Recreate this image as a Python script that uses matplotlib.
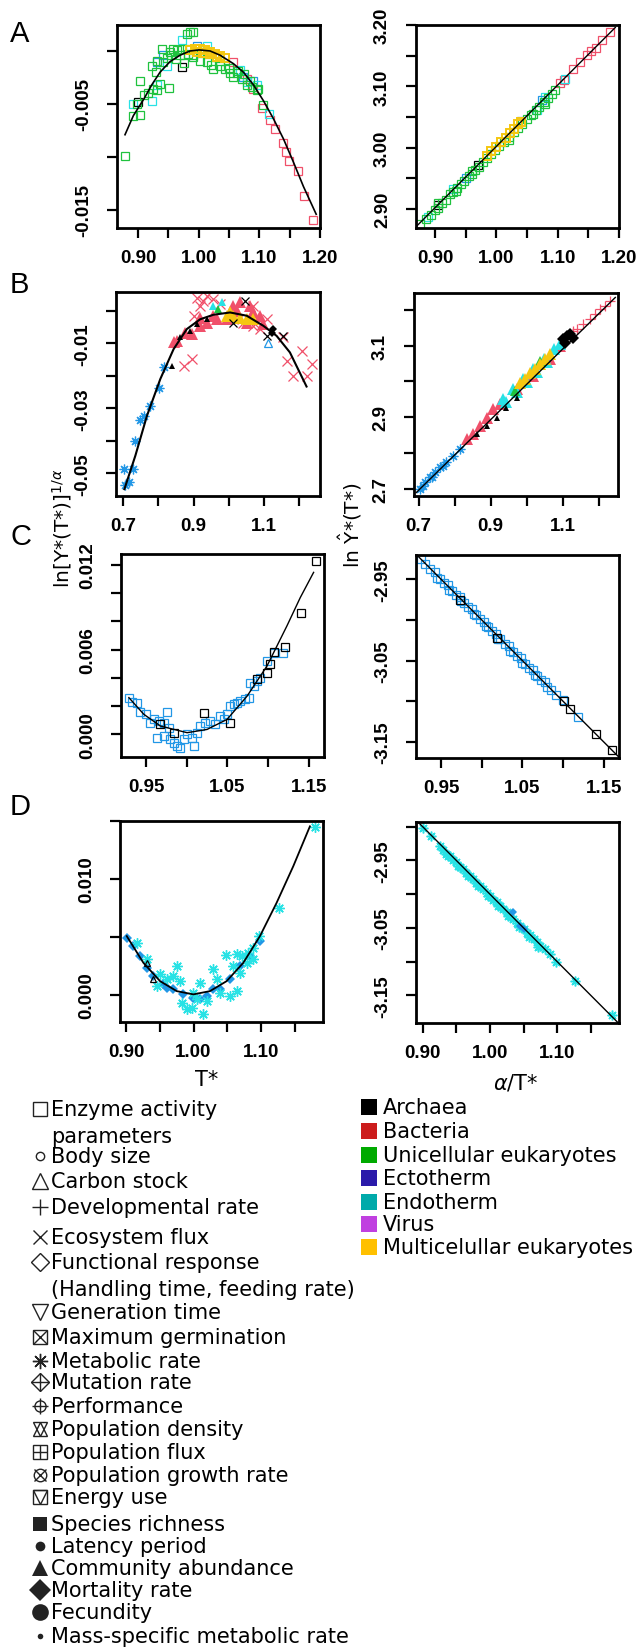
import matplotlib
matplotlib.use("Agg")
import matplotlib.pyplot as plt
from matplotlib.ticker import FixedLocator, FixedFormatter

W, H = 637, 1649

RED = "#F0506A"
GREEN = "#1FC23E"
BLUE = "#2297E6"
CYAN = "#28E2E5"
YEL = "#F5C710"
BLK = "black"
AST = (8, 2, 0)  # R pch 8 style asterisk

# ---------------------------------------------------------------- panel A
a_green_x = [0.8785, 0.8912, 0.9033, 0.8978, 0.9033, 0.9099, 0.9171, 0.9253, 0.9308, 0.9363,
             0.9297, 0.9517, 0.9418, 0.9473, 0.9391, 0.9583, 0.9528, 0.9638, 0.9721, 0.9803,
             0.9858, 0.9913, 0.9814, 0.9831, 0.9913, 1.0023, 1.0133, 1.0243, 1.0353, 1.0436,
             1.0518, 1.0573, 1.0628, 1.0711, 1.0793, 1.0876, 1.0958, 1.0986, 1.1068, 1.0133,
             1.0298, 1.0023, 0.9693, 0.9308, 0.9226,
             0.955, 0.962, 0.975, 0.990, 1.020, 1.035, 1.050, 1.065, 1.075, 1.085]
a_green_y = [-0.0099, -0.0061, -0.0060, -0.0050, -0.0028, -0.0042, -0.0040, -0.0036, -0.0037, -0.0031,
             -0.0020, -0.0035, -0.0010, -0.0007, 0.0002, 0.0002, -0.0001, 0.0001, 0.0002, 0.0002,
             0.0018, 0.0018, 0.0016, -0.0003, -0.0004, -0.0009, -0.0010, -0.0017, -0.0014, -0.0017,
             -0.0021, -0.0025, -0.0021, -0.0026, -0.0032, -0.0034, -0.0037, -0.0036, -0.0051, -0.0001,
             -0.0006, -0.0001, -0.0004, -0.0009, -0.0014,
             -0.0004, -0.0008, -0.0011, -0.0006, -0.0013, -0.0009, -0.0016, -0.0019, -0.0022, -0.0028]
a_cyan_x = [0.8923, 0.9226, 0.9308, 0.9721, 1.0133, 1.0793, 1.1151, 1.0958, 0.9473, 1.0683]
a_cyan_y = [-0.0050, -0.0047, -0.0032, 0.0010, 0.0005, -0.0029, -0.0059, -0.0032, -0.0014, -0.0018]
a_blue_x = [0.9308, 0.9418, 0.9968, 1.0903, 1.0738]
a_blue_y = [-0.0010, -0.0004, 0.0005, -0.0028, -0.0025]
a_blk_x = [0.9721, 0.9006]
a_blk_y = [-0.0015, -0.0048]
a_red_x = [1.1041, 1.1178, 1.1261, 1.1387, 1.1442, 1.1497, 1.1635, 1.1739, 1.1882, 1.0573, 1.0793, 1.0903]
a_red_y = [-0.0054, -0.0065, -0.0074, -0.0087, -0.0095, -0.0104, -0.0113, -0.0137, -0.0159, -0.0010, -0.0026, -0.0036]
a_yel_x = [0.9858, 0.9941, 1.0023, 1.0106, 1.0188, 1.0271, 1.0353, 1.0436, 0.9968, 1.0078, 1.0188, 1.0298]
a_yel_y = [0.0001, 0.0002, 0.0002, 0.0001, -0.0001, -0.0003, -0.0005, -0.0007, -0.0001, -0.0002, -0.0003, -0.0006]
a_fit_x = [0.8785, 0.8923, 0.9099, 0.9226, 0.9363, 0.9528, 0.9693, 0.9858, 1.0007, 1.0188,
           1.0353, 1.0573, 1.0738, 1.0903, 1.1068, 1.1233, 1.1398, 1.1563, 1.1728, 1.1937]
a_fit_y = [-0.0079, -0.0061, -0.0045, -0.0032, -0.0020, -0.0010, -0.0004, 0.0000, 0.0001, 0.0000,
           -0.0004, -0.0012, -0.0020, -0.0032, -0.0047, -0.0064, -0.0083, -0.0105, -0.0128, -0.0154]

ar_green_x = [0.875, 0.885, 0.893, 0.900, 0.905, 0.912, 0.918, 0.925, 0.930, 0.936,
              0.942, 0.948, 0.955, 0.960, 0.966, 0.972, 0.978, 0.985, 0.992, 0.998,
              1.005, 1.012, 1.020, 1.028, 1.035, 1.042, 1.050, 1.057, 1.064, 1.070,
              1.077, 1.084, 1.090, 1.095, 0.905, 0.935, 0.960, 1.020, 1.060, 1.080]
ar_green_y = [2.876, 2.884, 2.890, 2.899, 2.902, 2.910, 2.915, 2.924, 2.927, 2.934,
              2.940, 2.945, 2.953, 2.957, 2.964, 2.969, 2.976, 2.983, 2.989, 2.996,
              3.002, 3.009, 3.017, 3.025, 3.032, 3.039, 3.047, 3.054, 3.061, 3.067,
              3.074, 3.081, 3.088, 3.094, 2.910, 2.930, 2.962, 3.012, 3.055, 3.072]
ar_cyan_x = [0.888, 0.930, 1.066, 1.112, 1.080]
ar_cyan_y = [2.887, 2.932, 3.062, 3.112, 3.083]
ar_blue_x = [0.950, 1.040, 1.075]
ar_blue_y = [2.951, 3.043, 3.078]
ar_yel_x = [0.985, 0.992, 1.000, 1.008, 1.015, 1.022, 1.028, 1.035, 1.040]
ar_yel_y = [2.987, 2.995, 3.001, 3.010, 3.016, 3.024, 3.030, 3.038, 3.042]
ar_red_x = [1.104, 1.110, 1.125, 1.137, 1.148, 1.155, 1.162, 1.172, 1.186]
ar_red_y = [3.105, 3.110, 3.128, 3.140, 3.151, 3.158, 3.162, 3.175, 3.189]
ar_blk_x = [0.970, 0.905]
ar_blk_y = [2.972, 2.906]
ar_line_x = [0.871, 1.194]
ar_line_y = [2.873, 3.196]

# ---------------------------------------------------------------- panel B
b_ast_x = [0.7066, 0.7160, 0.7019, 0.7283, 0.7349, 0.7491, 0.7604, 0.7755, 0.8009, 0.8151]
b_ast_y = [-0.0536, -0.0528, -0.0487, -0.0487, -0.0402, -0.0335, -0.0323, -0.0294, -0.0238, -0.0174]
b_redx_x = [0.9094, 0.9283, 0.9566, 0.9189, 0.9755, 0.9000, 0.8717, 0.8953, 1.2066, 1.2349,
            1.1830, 1.2208, 1.1642, 1.1547, 1.0698, 1.0887, 1.0132, 1.0415, 0.9377, 1.0698, 1.1075]
b_redx_y = [0.0041, 0.0031, 0.0036, 0.0015, 0.0021, -0.0015, -0.0169, -0.0149, -0.0123, -0.0164,
            -0.0200, -0.0200, -0.0154, -0.0082, -0.0046, -0.0056, -0.0026, -0.0036, 0.0046, 0.0015, -0.0026]
b_redtri_x = [0.8528, 0.8764, 0.9189, 0.9377, 0.9660, 1.0132, 1.0321, 1.0698, 1.0887, 1.0509,
              0.9943, 0.8434, 0.8953, 0.9566, 1.0226, 1.0604, 1.0981, 0.9189]
b_redtri_y = [-0.0092, -0.0067, -0.0046, -0.0036, -0.0026, 0.0015, 0.0026, -0.0005, -0.0015, -0.0036,
              -0.0026, -0.0097, -0.0072, -0.0015, 0.0000, 0.0015, -0.0041, -0.0021]
b_blktri_x = [0.8387, 0.8623, 0.8906, 0.9094, 0.9377]
b_blktri_y = [-0.0169, -0.0082, -0.0062, -0.0041, -0.0026]
b_blkx_x = [1.0462, 1.0132, 1.1075, 1.1547]
b_blkx_y = [0.0031, -0.0036, -0.0077, -0.0077]
b_blkd_x = [1.1264, 1.1217]
b_blkd_y = [-0.0056, -0.0067]
b_yel_x = [1.0132, 1.0321, 1.0509, 0.9943, 1.0698, 1.0038]
b_yel_y = [-0.0015, -0.0021, -0.0026, -0.0015, -0.0026, -0.0005]
b_cyan_x = [0.9566, 0.9802]
b_cyan_y = [0.0015, 0.0026]
b_green_x = [0.9708]
b_green_y = [0.0005]
b_bluetri_x = [1.1123]
b_bluetri_y = [-0.0099]
b_fit_x = [0.7038, 0.7349, 0.7679, 0.8057, 0.8434, 0.8811, 0.9189, 0.9566, 1.0038, 1.0509,
           1.0981, 1.1358, 1.1736, 1.2208]
b_fit_y = [-0.0549, -0.0446, -0.0323, -0.0210, -0.0118, -0.0056, -0.0026, -0.0012, -0.0005, -0.0015,
           -0.0046, -0.0077, -0.0128, -0.0233]

br_ast_x = [0.703, 0.712, 0.717, 0.731, 0.738, 0.745, 0.759, 0.768, 0.777, 0.796, 0.814]
br_ast_y = [2.698, 2.707, 2.717, 2.731, 2.733, 2.745, 2.759, 2.764, 2.773, 2.792, 2.810]
br_redtri_x = [0.833, 0.851, 0.870, 0.889, 0.907, 0.926, 0.935, 0.972, 1.019, 1.065, 1.093]
br_redtri_y = [2.838, 2.852, 2.876, 2.899, 2.922, 2.936, 2.945, 2.979, 3.016, 3.063, 3.100]
br_blktri_x = [0.861, 0.889, 0.917, 0.944, 0.972]
br_blktri_y = [2.852, 2.876, 2.899, 2.927, 2.955]
br_cyan_x = [0.935, 0.944, 0.963, 0.972, 0.991, 1.000, 1.019, 1.028, 1.047, 1.056, 1.075, 1.093]
br_cyan_y = [2.950, 2.943, 2.979, 2.970, 3.007, 2.998, 3.035, 3.026, 3.063, 3.054, 3.091, 3.105]
br_yel_x = [0.982, 0.995, 1.009, 1.023, 1.037, 1.051, 1.065]
br_yel_y = [2.997, 3.008, 3.025, 3.035, 3.049, 3.062, 3.077]
br_green_x = [0.968, 1.037]
br_green_y = [2.974, 3.058]
br_blkd_x = [1.102, 1.112, 1.121, 1.130, 1.107]
br_blkd_y = [3.119, 3.128, 3.133, 3.123, 3.109]
br_redx_x = [1.130, 1.140, 1.158, 1.177, 1.191, 1.205, 1.219, 1.233]
br_redx_y = [3.142, 3.147, 3.161, 3.175, 3.189, 3.203, 3.212, 3.226]
br_line_x = [0.6935, 1.2465]
br_line_y = [2.6888, 3.2355]

# ---------------------------------------------------------------- panel C
c_blue_x = [0.9287, 0.9328, 0.9389, 0.9430, 0.9492, 0.9553, 0.9594, 0.9656, 0.9717, 0.9758,
            0.9779, 0.9635, 0.9717, 0.9799, 0.9840, 0.9881, 0.9922, 0.9963, 1.0004, 1.0066,
            1.0086, 1.0127, 1.0168, 1.0230, 1.0291, 1.0352, 1.0414, 1.0455, 1.0496, 1.0537,
            1.0578, 1.0619, 1.0660, 1.0721, 1.0762, 1.0783, 1.0824, 1.0865, 1.0906, 1.0988,
            1.1070, 1.1184]
c_blue_y = [0.00260, 0.00232, 0.00224, 0.00158, 0.00142, 0.00083, 0.00111, 0.00094, 0.00083, 0.00158,
            0.00047, -0.00028, -0.00012, -0.00035, -0.00059, -0.00083, -0.00099, -0.00035, 0.00000, -0.00024,
            -0.00083, 0.00012, 0.00059, 0.00083, 0.00094, 0.00071, 0.00130, 0.00106, 0.00142, 0.00201,
            0.00213, 0.00224, 0.00236, 0.00248, 0.00260, 0.00366, 0.00343, 0.00378, 0.00402, 0.00520,
            0.00574, 0.00579]
c_blk_x = [1.1594, 1.1410, 1.1213, 1.1070, 1.0988, 1.1021, 1.0865, 1.0537, 1.0209, 0.9676, 0.9840]
c_blk_y = [0.01224, 0.00862, 0.00621, 0.00583, 0.00432, 0.00496, 0.00390, 0.00083, 0.00149, 0.00071, 0.00007]
c_fit_x = [0.9287, 0.9471, 0.9676, 1.0004, 1.0250, 1.0496, 1.0742, 1.0988, 1.1234, 1.1398, 1.1562]
c_fit_y = [0.00260, 0.00142, 0.00059, 0.00012, 0.00035, 0.00106, 0.00270, 0.00484, 0.00768, 0.00968, 0.01146]

cr_blue_x = [0.925, 0.930, 0.936, 0.942, 0.948, 0.953, 0.958, 0.963, 0.968, 0.973,
             0.978, 0.983, 0.988, 0.993, 0.998, 1.003, 1.008, 1.013, 1.018, 1.023,
             1.028, 1.033, 1.038, 1.043, 1.048, 1.053, 1.058, 1.063, 1.068, 1.073,
             1.078, 1.085, 1.092, 1.100, 1.119,
             0.945, 0.960, 0.975, 0.990, 1.005, 1.020, 1.035, 1.050, 1.065, 1.080]
cr_blue_y = [-2.925, -2.931, -2.937, -2.941, -2.949, -2.954, -2.957, -2.964, -2.969, -2.972,
             -2.979, -2.984, -2.987, -2.994, -2.999, -3.002, -3.009, -3.014, -3.017, -3.024,
             -3.029, -3.032, -3.039, -3.044, -3.047, -3.054, -3.059, -3.062, -3.069, -3.074,
             -3.077, -3.086, -3.093, -3.099, -3.120,
             -2.948, -2.963, -2.977, -2.993, -3.008, -3.023, -3.038, -3.053, -3.068, -3.083]
cr_blk_x = [1.1007, 1.1089, 1.1410, 1.1603, 1.0186, 0.9734]
cr_blk_y = [-3.0999, -3.1102, -3.1410, -3.1603, -3.0226, -2.9754]
cr_line_x = [0.921, 1.169]
cr_line_y = [-2.921, -3.169]

# ---------------------------------------------------------------- panel D
d_ast_x = [1.1800, 1.1272, 1.0975, 1.0886, 1.0812, 1.0788, 1.0640, 1.0481, 1.0590, 1.0689,
           1.0640, 1.0541, 1.0294, 1.0096, 0.9751, 0.9899, 0.9973, 1.0136, 0.9800, 0.9701,
           0.9504, 0.9454, 1.0195, 1.0393, 0.9825, 0.9602, 1.0047, 1.0343, 1.0886, 1.0714,
           0.9306, 0.9158, 0.9998]
d_ast_y = [0.01449, 0.00753, 0.00508, 0.00407, 0.00364, 0.00278, 0.00350, 0.00344, 0.00250, 0.00192,
           0.00034, -0.00009, 0.00221, 0.00106, 0.00250, -0.00123, -0.00109, -0.00166, 0.00120, 0.00164,
           0.00178, 0.00077, -0.00052, 0.00020, -0.00066, 0.00135, -0.00037, 0.00135, 0.00307, 0.00336,
           0.00307, 0.00450, 0.00020]
d_blue_x = [0.9010, 0.9109, 0.9207, 0.9306, 0.9405, 0.9553, 0.9701, 0.9849, 0.9998, 1.0195,
            1.0393, 1.0541, 1.0689, 1.0837, 1.0985, 1.0096, 1.0294, 0.9602]
d_blue_y = [0.00493, 0.00422, 0.00336, 0.00235, 0.00164, 0.00092, 0.00049, 0.00006, -0.00023, -0.00009,
            0.00049, 0.00135, 0.00250, 0.00336, 0.00465, -0.00037, 0.00049, 0.00063]
d_blk_x = [0.9306, 0.9405]
d_blk_y = [0.00278, 0.00135]
d_fit_x = [0.9010, 0.9257, 0.9504, 0.9751, 0.9998, 1.0244, 1.0491, 1.0738, 1.0985, 1.1232, 1.1479, 1.1726]
d_fit_y = [0.00508, 0.00278, 0.00120, 0.00034, 0.00006, 0.00034, 0.00120, 0.00278, 0.00508, 0.00795, 0.01110, 0.01454]

dr_ast_x = [0.901, 0.913, 0.925,
            0.930, 0.935, 0.940, 0.945, 0.950, 0.955, 0.960, 0.965, 0.970, 0.975,
            0.980, 0.985, 0.990, 0.995, 1.000, 1.005, 1.010, 1.015, 1.020, 1.025,
            1.030, 1.035, 1.040, 1.045, 1.050, 1.055, 1.060, 1.065, 1.070, 1.075,
            1.082, 1.089, 1.099, 1.126, 1.182]
dr_ast_y = [-2.902, -2.914, -2.929,
            -2.934, -2.940, -2.943, -2.949, -2.953, -2.959, -2.963, -2.968, -2.973, -2.978,
            -2.983, -2.988, -2.992, -2.998, -3.002, -3.008, -3.012, -3.018, -3.022, -3.027,
            -3.032, -3.037, -3.042, -3.047, -3.052, -3.057, -3.061, -3.067, -3.071, -3.077,
            -3.082, -3.089, -3.100, -3.128, -3.179]
dr_ast2_x = [0.938, 0.952, 0.967, 0.982, 0.997, 1.012, 1.027, 1.043, 1.058, 1.072]
dr_ast2_y = [-2.944, -2.958, -2.973, -2.988, -3.003, -3.018, -3.033, -3.049, -3.064, -3.078]
dr_blue_x = [1.035, 1.045, 1.050]
dr_blue_y = [-3.027, -3.047, -3.052]
dr_line_x = [0.894, 1.192]
dr_line_y = [-2.894, -3.192]

# ---------------------------------------------------------------- ticks
a_xt = [0.90, 0.95, 1.00, 1.05, 1.10, 1.15, 1.20]
a_xl = ["0.90", "", "1.00", "", "1.10", "", "1.20"]
a_yt = [0.0, -0.005, -0.010, -0.015]
a_yl = ["", "-0.005", "", "-0.015"]
ar_yt = [2.90, 2.95, 3.00, 3.05, 3.10, 3.15, 3.20]
ar_yl = ["2.90", "", "3.00", "", "3.10", "", "3.20"]
b_xt = [0.7, 0.8, 0.9, 1.0, 1.1, 1.2]
b_xl = ["0.7", "", "0.9", "", "1.1", ""]
b_yt = [0.0, -0.01, -0.02, -0.03, -0.04, -0.05]
b_yl = ["", "-0.01", "", "-0.03", "", "-0.05"]
br_yt = [2.7, 2.8, 2.9, 3.0, 3.1, 3.2]
br_yl = ["2.7", "", "2.9", "", "3.1", ""]
c_xt = [0.95, 1.00, 1.05, 1.10, 1.15]
c_xl = ["0.95", "", "1.05", "", "1.15"]
c_yt = [0.0, 0.002, 0.004, 0.006, 0.008, 0.010, 0.012]
c_yl = ["0.000", "", "", "0.006", "", "", "0.012"]
cr_yt = [-2.95, -3.00, -3.05, -3.10, -3.15]
cr_yl = ["-2.95", "", "-3.05", "", "-3.15"]
d_xt = [0.90, 0.95, 1.00, 1.05, 1.10, 1.15]
d_xl = ["0.90", "", "1.00", "", "1.10", ""]
d_yt = [0.0, 0.005, 0.010, 0.015]
d_yl = ["0.000", "", "0.010", ""]
dr_yt = [-2.90, -2.95, -3.00, -3.05, -3.10, -3.15]
dr_yl = ["", "-2.95", "", "-3.05", "", "-3.15"]

# ---------------------------------------------------------------- legends
trait_labels = ["Enzyme activity\nparameters", "Body size", "Carbon stock", "Developmental rate",
                "Ecosystem flux", "Functional response\n(Handling time, feeding rate)",
                "Generation time", "Maximum germination", "Metabolic rate", "Mutation rate",
                "Performance", "Population density", "Population flux", "Population growth rate",
                "Energy use", "Species richness", "Latency period", "Community abundance",
                "Mortality rate", "Fecundity", "Mass-specific metabolic rate"]
group_labels = ["Archaea", "Bacteria", "Unicellular eukaryotes", "Ectotherm", "Endotherm",
                "Virus", "Multicelullar eukaryotes"]
group_colors = ["#000000", "#CC1C1C", "#00AA00", "#2A1AAA", "#00AAAA", "#C040E0", "#FFC000"]

# ================================================================ drawing
fig = plt.figure(figsize=(W / 100, H / 100), dpi=100)


def panel(l, t, r, b):
    return fig.add_axes([l / W, 1 - b / H, (r - l) / W, (b - t) / H])


def style(ax, xlim, ylim, xt, xl, yt, yl):
    ax.set_xlim(xlim)
    ax.set_ylim(ylim)
    ax.xaxis.set_major_locator(FixedLocator(xt))
    ax.xaxis.set_major_formatter(FixedFormatter(xl))
    ax.yaxis.set_major_locator(FixedLocator(yt))
    ax.yaxis.set_major_formatter(FixedFormatter(yl))
    for s in ax.spines.values():
        s.set_linewidth(2)
    ax.tick_params(length=7, width=1.6, labelsize=13.5, labelfontfamily="Liberation Sans")
    ax.tick_params(axis="x", pad=8)
    ax.tick_params(axis="y", pad=11)
    plt.setp(ax.get_xticklabels(), fontweight="bold")
    plt.setp(ax.get_yticklabels(), fontweight="bold", rotation=90, va="center")


def pts(ax, x, y, marker, color, ms, filled=False, mew=0.9):
    if filled:
        ax.plot(x, y, ls="none", marker=marker, ms=ms, color=color, mec=color, mew=0)
    else:
        ax.plot(x, y, ls="none", marker=marker, ms=ms, mfc="none", mec=color, mew=mew)


# A
ax = panel(117, 26, 320, 229)
pts(ax, a_red_x, a_red_y, "s", RED, 6)
pts(ax, a_blue_x, a_blue_y, "s", BLUE, 6)
pts(ax, a_cyan_x, a_cyan_y, "s", CYAN, 6)
pts(ax, a_blk_x, a_blk_y, "s", BLK, 6)
pts(ax, a_green_x, a_green_y, "s", GREEN, 6)
pts(ax, a_yel_x, a_yel_y, "s", YEL, 6, mew=1.4)
ax.plot(a_fit_x, a_fit_y, color="black", lw=1.2)
style(ax, (0.8653, 1.2), (-0.0167, 0.00245), a_xt, a_xl, a_yt, a_yl)

ax = panel(416, 26, 619, 229)
pts(ax, ar_red_x, ar_red_y, "s", RED, 6)
pts(ax, ar_cyan_x, ar_cyan_y, "s", CYAN, 6)
pts(ax, ar_blue_x, ar_blue_y, "s", BLUE, 6)
pts(ax, ar_blk_x, ar_blk_y, "s", BLK, 6)
pts(ax, ar_green_x, ar_green_y, "s", GREEN, 6)
pts(ax, ar_yel_x, ar_yel_y, "s", YEL, 6, mew=1.4)
ax.plot(ar_line_x, ar_line_y, color="black", lw=1)
style(ax, (0.869, 1.2), (2.869, 3.2), a_xt, a_xl, ar_yt, ar_yl)

# B
ax = panel(116, 293, 320, 497)
pts(ax, b_ast_x, b_ast_y, AST, BLUE, 7)
pts(ax, b_redx_x, b_redx_y, "x", RED, 6.5)
pts(ax, b_redtri_x, b_redtri_y, "^", RED, 8, filled=True)
pts(ax, b_cyan_x, b_cyan_y, "^", CYAN, 6, filled=True)
pts(ax, b_green_x, b_green_y, "^", GREEN, 6, filled=True)
pts(ax, b_yel_x, b_yel_y, "^", YEL, 8, filled=True)
pts(ax, b_bluetri_x, b_bluetri_y, "^", BLUE, 6)
pts(ax, b_blktri_x, b_blktri_y, "^", BLK, 4, filled=True)
pts(ax, b_blkx_x, b_blkx_y, "x", BLK, 6)
pts(ax, b_blkd_x, b_blkd_y, "D", BLK, 4.5, filled=True)
ax.plot(b_fit_x, b_fit_y, color="black", lw=1.5)
style(ax, (0.68, 1.259), (-0.057, 0.0058), b_xt, b_xl, b_yt, b_yl)

ax = panel(414, 294, 618, 497)
pts(ax, br_ast_x, br_ast_y, AST, BLUE, 7)
pts(ax, br_redtri_x, br_redtri_y, "^", RED, 9, filled=True)
pts(ax, br_cyan_x, br_cyan_y, "^", CYAN, 9, filled=True)
pts(ax, br_green_x, br_green_y, "^", GREEN, 7, filled=True)
pts(ax, br_yel_x, br_yel_y, "^", YEL, 8, filled=True)
pts(ax, br_blktri_x, br_blktri_y, "^", BLK, 4, filled=True)
pts(ax, br_redx_x, br_redx_y, "+", RED, 7)
pts(ax, br_blkd_x, br_blkd_y, "D", BLK, 6, filled=True)
ax.plot(br_line_x, br_line_y, color="black", lw=1)
style(ax, (0.687, 1.254), (2.679, 3.248), b_xt, b_xl, br_yt, br_yl)

# C
ax = panel(121, 555, 324, 758)
pts(ax, c_blue_x, c_blue_y, "s", BLUE, 6)
pts(ax, c_blk_x, c_blk_y, "s", BLK, 6)
ax.plot(c_fit_x, c_fit_y, color="black", lw=1)
style(ax, (0.919, 1.169), (-0.0016, 0.01276), c_xt, c_xl, c_yt, c_yl)

ax = panel(416, 556, 619, 759)
pts(ax, cr_blue_x, cr_blue_y, "s", BLUE, 6)
pts(ax, cr_blk_x, cr_blk_y, "s", BLK, 6)
ax.plot(cr_line_x, cr_line_y, color="black", lw=1)
style(ax, (0.919, 1.169), (-3.17, -2.92), c_xt, c_xl, cr_yt, cr_yl)

# D
ax = panel(120, 822, 323, 1023)
pts(ax, d_blue_x, d_blue_y, "D", BLUE, 5.5, filled=True)
pts(ax, d_ast_x, d_ast_y, AST, CYAN, 7.5, mew=1)
pts(ax, d_blk_x, d_blk_y, "^", BLK, 4)
ax.plot(d_fit_x, d_fit_y, color="black", lw=1.3)
style(ax, (0.891, 1.192), (-0.00232, 0.015), d_xt, d_xl, d_yt, d_yl)

ax = panel(416, 823, 619, 1024)
pts(ax, dr_ast_x, dr_ast_y, AST, CYAN, 7, mew=1.1)
pts(ax, dr_ast2_x, dr_ast2_y, AST, CYAN, 7, mew=1.1)
pts(ax, dr_blue_x, dr_blue_y, "D", BLUE, 4, filled=True)
ax.plot(dr_line_x, dr_line_y, color="black", lw=1)
style(ax, (0.89, 1.192), (-3.191, -2.893), d_xt, d_xl, dr_yt, dr_yl)

# ---------------------------------------------------------------- overlay in pixel units
ov = fig.add_axes([0, 0, 1, 1], zorder=-1)
ov.set_xlim(0, W)
ov.set_ylim(H, 0)
ov.set_axis_off()

for letter, yy in zip("ABCD", [34, 285, 537, 807]):
    ov.text(10, yy, letter, fontsize=21, family="Liberation Sans", va="center", ha="left")

ov.text(207, 1080, "T*", fontsize=15, ha="center", va="center")
ov.text(516, 1083, r"$\alpha$/T*", fontsize=15, ha="center", va="center")
ov.text(62, 528, r"ln[Y*(T*)]$^{1/\alpha}$", fontsize=14.5, rotation=90, ha="center", va="center")
ov.text(350, 525, r"ln $\hat{\mathrm{Y}}$*(T*)", fontsize=14.5, rotation=90, ha="center", va="center")

# trait legend: markers drawn in dark grey, some as overlays of two R symbols
row_y = [1110, 1157, 1182, 1208, 1238, 1263, 1313, 1338, 1362, 1383, 1407,
         1430, 1453, 1476, 1498, 1525, 1547, 1569, 1591, 1613, 1637]
glyphs = [[("s", 10.5, False)], [("o", 6, False)], [("^", 11, False)], [("+", 12, False)],
          [("x", 9.5, False)], [("D", 9.5, False)], [("v", 11, False)],
          [("s", 10.5, False), ("x", 10.5, False)], [(AST, 11, False)],
          [("D", 9.5, False), ("+", 13, False)], [("o", 8, False), ("+", 12, False)],
          [("^", 10, False), ("v", 10, False)], [("s", 10.5, False), ("+", 10.5, False)],
          [("o", 9, False), ("x", 9, False)], [("s", 10.5, False), ("v", 10.5, False)],
          [("s", 10.5, True)], [("o", 7, True)], [("^", 11, True)], [("D", 11, True)],
          [("o", 12, True)], [("o", 4, True)]]
LC = "#222222"
for lab, yy, gl in zip(trait_labels, row_y, glyphs):
    for mk, ms, filled in gl:
        if filled:
            ov.plot([40], [yy], marker=mk, ms=ms, color=LC, mew=0, ls="none")
        else:
            ov.plot([40], [yy], marker=mk, ms=ms, mfc="none", mec=LC, mew=1, ls="none")
    for k, line in enumerate(lab.split("\n")):
        ov.text(51, yy + k * 27, line, fontsize=15, family="DejaVu Sans", va="center", ha="left")

group_y = [1108, 1132, 1156, 1179, 1203, 1225, 1248]
for lab, col, yy in zip(group_labels, group_colors, group_y):
    ov.plot([369], [yy], marker="s", ms=11, color=col, mew=0, ls="none")
    ov.text(383, yy, lab, fontsize=15, family="DejaVu Sans", va="center", ha="left")

fig.savefig("out.png", dpi=100)
